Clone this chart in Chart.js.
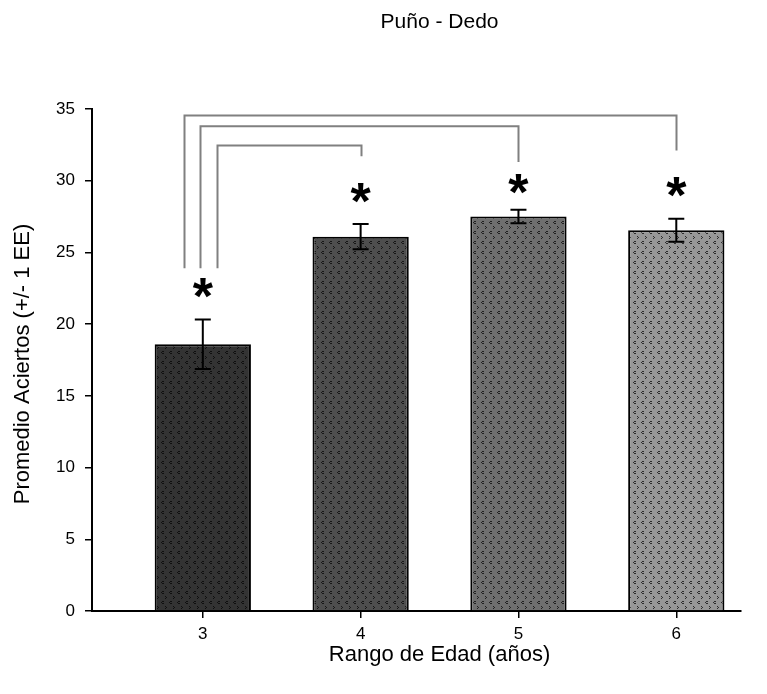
<!DOCTYPE html>
<html>
<head>
<meta charset="utf-8">
<script src="https://cdn.jsdelivr.net/npm/chart.js@4.4.0/dist/chart.umd.min.js"></script>
<style>
  html, body { margin: 0; padding: 0; background: #ffffff; }
  #wrap { width: 767px; height: 694px; position: relative; }
</style>
</head>
<body>
<div id="wrap"><canvas id="chart"></canvas></div>
<script>
// Age groups (years) and mean correct answers with standard error
const ages = [3, 4, 5, 6];
const means = [18.6, 26.1, 27.5, 26.55];
const stdErrors = [1.72, 0.88, 0.47, 0.8];
const yTicks = [0, 5, 10, 15, 20, 25, 30, 35];

// Significance brackets: from the 3-year group to each older group
const bracketFrom = [2.88, 2.985, 3.09];
const bracketTo = [6, 5, 4];
const bracketTop = [34.55, 33.8, 32.45];
const bracketEnd = [32.1, 31.3, 31.7];
const bracketBase = 23.9;

// Height of the significance asterisk above each bar
const starLevels = [22.5, 29.15, 29.8, 29.55];

const titleText = 'Puño - Dedo';
const xTitle = 'Rango de Edad (años)';
const yTitle = 'Promedio Aciertos (+/- 1 EE)';

const shades = ['#333333', '#4e4e4e', '#6f6f6f', '#979797'];
const FONT = '"Liberation Sans", Arial, sans-serif';

// Small dotted texture for the bar fill
function makePattern(base) {
  const c = document.createElement('canvas');
  c.width = 8; c.height = 10;
  const g = c.getContext('2d');
  g.fillStyle = base;
  g.fillRect(0, 0, 8, 10);
  g.fillStyle = 'rgba(0,0,0,0.7)';
  // "c" glyph
  g.fillRect(2, 1, 2, 1);
  g.fillRect(1, 2, 1, 1);
  g.fillRect(2, 3, 2, 1);
  // ">" glyph
  g.fillRect(5, 6, 1, 1);
  g.fillRect(6, 7, 1, 1);
  g.fillRect(5, 8, 1, 1);
  const ctx = document.createElement('canvas').getContext('2d');
  return ctx.createPattern(c, 'repeat');
}

const annotations = {
  id: 'annotations',
  afterDatasetsDraw(chart) {
    const ctx = chart.ctx;
    const xs = chart.scales.x, ys = chart.scales.y;
    ctx.save();
    // error bars
    ctx.strokeStyle = '#000';
    ctx.lineWidth = 2;
    ages.forEach((a, i) => {
      const x = xs.getPixelForValue(a);
      const yTop = ys.getPixelForValue(means[i] + stdErrors[i]);
      const yBot = ys.getPixelForValue(means[i] - stdErrors[i]);
      ctx.beginPath();
      ctx.moveTo(x, yTop); ctx.lineTo(x, yBot);
      ctx.moveTo(x - 8, yTop); ctx.lineTo(x + 8, yTop);
      ctx.moveTo(x - 8, yBot); ctx.lineTo(x + 8, yBot);
      ctx.stroke();
    });
    // significance brackets
    ctx.strokeStyle = '#808080';
    ctx.lineWidth = 2;
    bracketFrom.forEach((f, i) => {
      const x1 = Math.round(xs.getPixelForValue(f)) + 0.5;
      const x2 = Math.round(xs.getPixelForValue(bracketTo[i])) + 0.5;
      const yT = ys.getPixelForValue(bracketTop[i]);
      ctx.beginPath();
      ctx.moveTo(x1, ys.getPixelForValue(bracketBase));
      ctx.lineTo(x1, yT);
      ctx.lineTo(x2, yT);
      ctx.lineTo(x2, ys.getPixelForValue(bracketEnd[i]));
      ctx.stroke();
    });
    // asterisks
    ctx.fillStyle = '#000';
    ctx.font = 'bold 52px ' + FONT;
    ctx.textAlign = 'center';
    ctx.textBaseline = 'alphabetic';
    const m = ctx.measureText('*');
    const mid = (m.actualBoundingBoxAscent - m.actualBoundingBoxDescent) / 2;
    ages.forEach((a, i) => {
      ctx.fillText('*', xs.getPixelForValue(a), ys.getPixelForValue(starLevels[i]) + mid);
    });
    // titles
    const cx = xs.getPixelForValue(4.5);
    ctx.textBaseline = 'middle';
    ctx.font = '21px ' + FONT;
    ctx.fillText(titleText, cx, 22);
    ctx.font = '22px ' + FONT;
    ctx.fillText(xTitle, cx, 655);
    ctx.translate(23, (chart.chartArea.top + chart.chartArea.bottom) / 2 + 4);
    ctx.rotate(-Math.PI / 2);
    ctx.fillText(yTitle, 0, 0);
    ctx.restore();
  }
};

new Chart(document.getElementById('chart'), {
  type: 'bar',
  data: {
    datasets: [{
      data: ages.map((a, i) => ({ x: a, y: means[i] })),
      backgroundColor: shades.map(makePattern),
      borderColor: '#000',
      borderWidth: 2,
      borderSkipped: 'bottom',
      barPercentage: 0.61,
      categoryPercentage: 1
    }]
  },
  plugins: [annotations],
  options: {
    responsive: true,
    maintainAspectRatio: false,
    animation: false,
    layout: { padding: { left: 0, right: 26, top: 109, bottom: 43 } },
    plugins: { legend: { display: false }, tooltip: { enabled: false }, title: { display: false } },
    scales: {
      x: {
        type: 'linear',
        offset: false,
        min: 2.298,
        max: 6.41,
        afterBuildTicks: (s) => { s.ticks = ages.map(v => ({ value: v })); },
        afterFit: (s) => { s.height = 40; },
        ticks: { color: '#000', font: { family: FONT, size: 17 }, padding: 6, callback: (v) => String(v) },
        grid: { offset: false, drawOnChartArea: false, drawTicks: true, tickLength: 7, color: '#000', lineWidth: 1.5 },
        border: { display: true, color: '#000', width: 2 }
      },
      y: {
        min: 0,
        max: 35,
        afterBuildTicks: (s) => { s.ticks = yTicks.map(v => ({ value: v })); },
        afterFit: (s) => { s.width = 92; },
        ticks: { color: '#000', font: { family: FONT, size: 17 }, padding: 10 },
        grid: { drawOnChartArea: false, drawTicks: true, tickLength: 7, color: '#000', lineWidth: 1.5 },
        border: { display: true, color: '#000', width: 2 }
      }
    }
  }
});
</script>
</body>
</html>
